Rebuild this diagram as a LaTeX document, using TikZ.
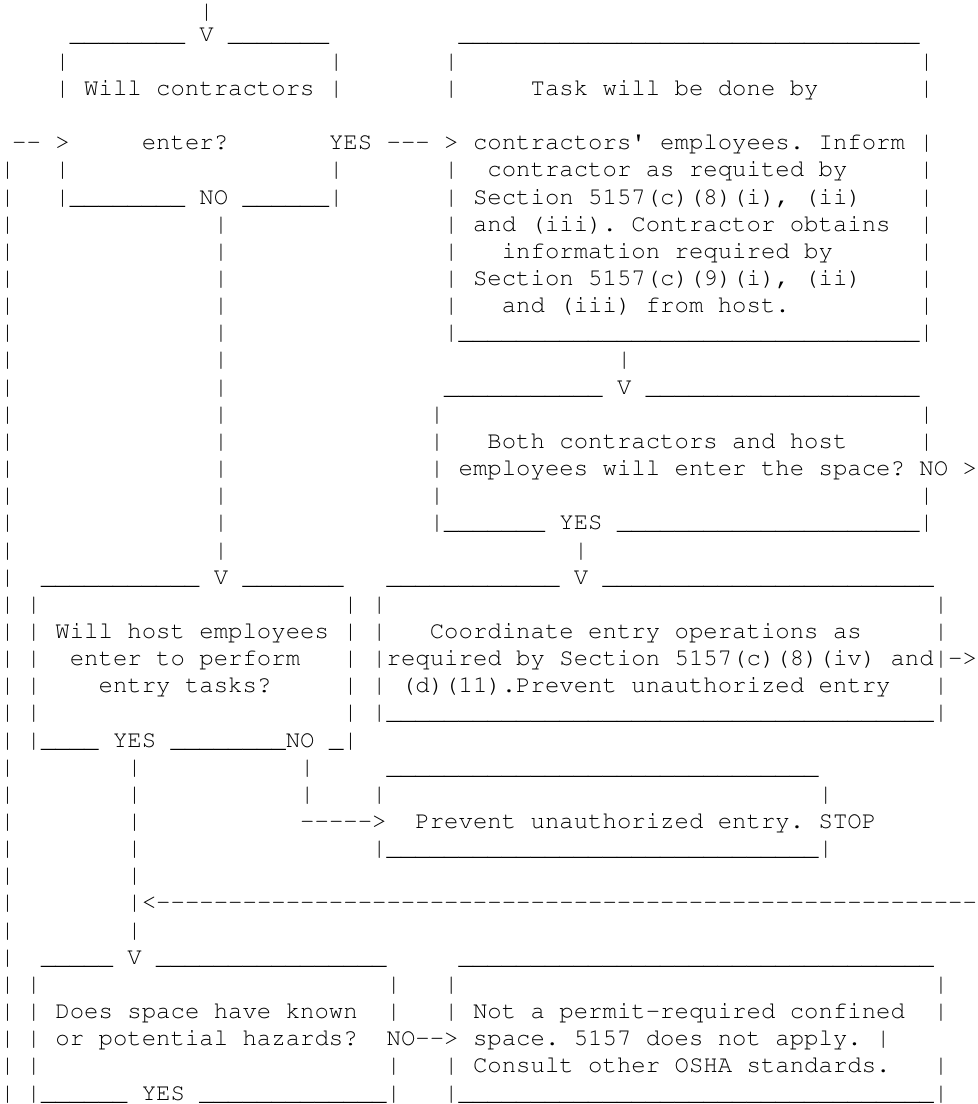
\documentclass[tikz,border=0pt]{standalone}
\usepackage[T1]{fontenc}
\newcommand\asciifont{\fontencoding{T1}\fontfamily{pcr}\fontseries{m}\fontshape{n}\fontsize{24}{27}\selectfont\frenchspacing}
\newcommand\uline[1]{\foreach \i in {1,...,#1}{\_}}
\newcommand\dashes[1]{\foreach \i in {1,...,#1}{-}}
\tikzset{ch/.style={anchor=base west, inner sep=0pt, outer sep=0pt, font=\asciifont, text=black}}
\newcommand\seg[4]{\node[ch] (#1) at ({-2.2+14.4*(#2)},{-14-27.15*(#3)}) {#4};}
\newcommand\vbar[3]{\foreach \r in {#3} {\node[ch] (#1\r) at ({-2.2+14.4*(#2)},{-14-27.15*\r}) {|};}}
\begin{document}
\begin{tikzpicture}[x=1pt,y=1pt]
\useasboundingbox (0,0) rectangle (978,-1104);
\fill[white] (0,0) rectangle (978,-1104);
% --- top: Will contractors enter? / Task will be done by
\node[ch] (top) at ({-2.2+14.4*14},-18) {|};
\seg{qa}{5}{1}{\uline{8}}
\seg{qv}{14}{1}{V}
\seg{qb}{16}{1}{\uline{7}}
\seg{ttop}{32}{1}{\uline{32}}
\vbar{vqL}{4}{2,3,6,7}
\vbar{vqR}{23}{2,3,6,7}
\vbar{vtL}{31}{2,3,6,7,8,9,10,11,12}
\vbar{vtR}{64}{2,3,5,6,7,8,9,10,11,12}
\seg{q1}{6}{3}{Will contractors}
\seg{t1}{37}{3}{Task will be done by}
\seg{inarrow}{1}{5}{-{}-}
\seg{inhead}{4}{5}{>}
\seg{q2}{10}{5}{enter?}
\seg{yesA}{23}{5}{YES}
\seg{yesAd}{27}{5}{-{}-{}-}
\seg{yesAh}{31}{5}{>}
\seg{t2}{33}{5}{contractors\textquotesingle{} employees. Inform}
\seg{t3}{34}{6}{contractor as requited by}
\seg{qc}{5}{7}{\uline{8}}
\seg{noA}{14}{7}{NO}
\seg{qd}{17}{7}{\uline{6}}
\seg{t4}{33}{7}{Section 5157(c)(8)(i), (ii)}
\seg{t5}{33}{8}{and (iii). Contractor obtains}
\seg{t6}{35}{9}{information required by}
\seg{t7}{33}{10}{Section 5157(c)(9)(i), (ii)}
\seg{t8}{35}{11}{and (iii) from host.}
\seg{tbot}{32}{12}{\uline{32}}
% --- long left return line and NO line
\foreach \r in {6,...,40} {\node[ch] (vL\r) at (0.3,{-14-27.15*\r}) {|};}
\vbar{vN}{15}{8,...,20}
% --- Both contractors and host employees
\vbar{vd}{43}{13}
\seg{ba}{31}{14}{\uline{11}}
\seg{bv}{43}{14}{V}
\seg{bb}{45}{14}{\uline{19}}
\vbar{vbL}{30}{15,...,19}
\vbar{vbR}{64}{15,16,18,19}
\seg{b1}{34}{16}{Both contractors and host}
\seg{b2}{32}{17}{employees will enter the space?}
\seg{noB}{64}{17}{NO}
\seg{noBh}{67}{17}{>}
\seg{bc}{31}{19}{\uline{7}}
\seg{yesB}{39}{19}{YES}
\seg{bd}{43}{19}{\uline{21}}
\vbar{ve}{40}{20}
% --- Will host employees / Coordinate entry
\seg{ha}{3}{21}{\uline{11}}
\seg{hv}{15}{21}{V}
\seg{hb}{17}{21}{\uline{7}}
\seg{ca}{27}{21}{\uline{12}}
\seg{cv}{40}{21}{V}
\seg{cb}{42}{21}{\uline{23}}
\vbar{vhL}{2}{22,...,27}
\vbar{vhR}{24}{22,...,27}
\vbar{vcL}{26}{22,...,26}
\vbar{vcR}{65}{22,...,26}
\seg{h1}{4}{23}{Will host employees}
\seg{c1}{30}{23}{Coordinate entry operations as}
\seg{h2}{5}{24}{enter to perform}
\seg{c2}{27}{24}{required by Section 5157(c)(8)(iv) and}
\seg{c2h}{66}{24}{-{}>}
\seg{h3}{7}{25}{entry tasks?}
\seg{c3}{28}{25}{(d)(11).Prevent unauthorized entry}
\seg{cbot}{27}{26}{\uline{38}}
\seg{hc}{3}{27}{\uline{4}}
\seg{yesC}{8}{27}{YES}
\seg{hd}{12}{27}{\uline{8}}
\seg{noC}{20}{27}{NO}
\seg{he}{23}{27}{\_}
% --- Prevent unauthorized entry. STOP
\vbar{vy}{9}{28,...,34}
\vbar{vn}{21}{28,29}
\seg{ptop}{27}{28}{\uline{30}}
\vbar{vpL}{26}{29,31}
\vbar{vpR}{57}{29,31}
\seg{noCd}{21}{30}{-{}-{}-{}-{}->}
\seg{p1}{29}{30}{Prevent unauthorized entry. STOP}
\seg{pbot}{27}{31}{\uline{30}}
\seg{back}{10}{33}{<}
\seg{backd}{11}{33}{\dashes{57}}
% --- Does space have known hazards / Not a permit space
\seg{sa}{3}{35}{\uline{5}}
\seg{sv}{9}{35}{V}
\seg{sb}{11}{35}{\uline{16}}
\seg{ntop}{32}{35}{\uline{33}}
\vbar{vsL}{2}{36,...,40}
\vbar{vsR}{27}{36,37,39,40}
\vbar{vnL}{31}{36,37,39,40}
\vbar{vnR}{65}{36,37,39,40}
\seg{s1}{4}{37}{Does space have known}
\seg{n1}{33}{37}{Not a permit-required confined}
\seg{s2}{4}{38}{or potential hazards?}
\seg{noD}{27}{38}{NO-{}->}
\seg{n2}{33}{38}{space. 5157 does not apply.}
\seg{n2b}{61}{38}{|}
\seg{n3}{33}{39}{Consult other OSHA standards.}
\seg{sc}{3}{40}{\uline{6}}
\seg{yesD}{10}{40}{YES}
\seg{sd}{14}{40}{\uline{13}}
\seg{nbot}{32}{40}{\uline{33}}
\end{tikzpicture}
\end{document}
